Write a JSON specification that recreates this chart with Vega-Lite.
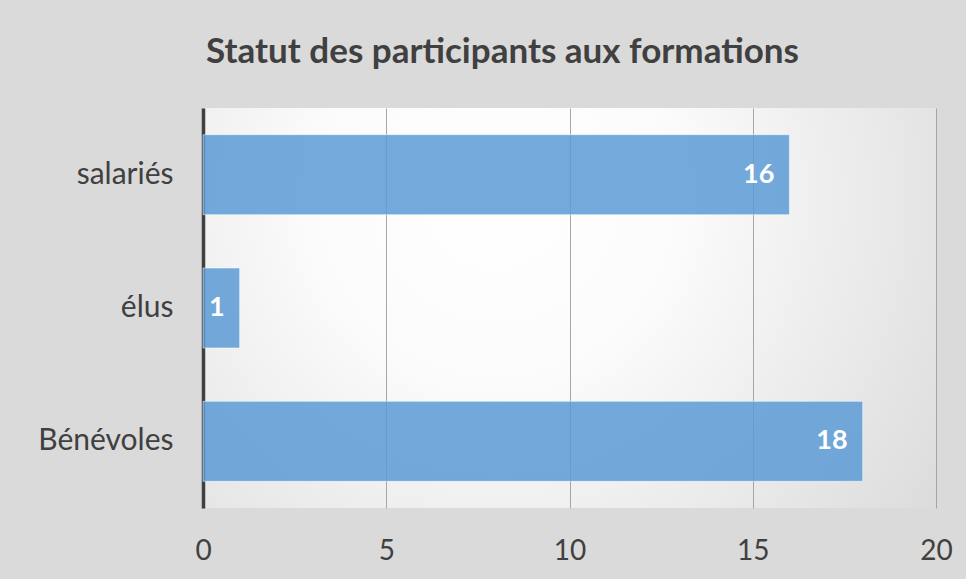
{
  "$schema": "https://vega.github.io/schema/vega-lite/v6.json",
  "width": 733,
  "height": 400,
  "autosize": {"type": "none"},
  "padding": {"left": 203, "top": 108, "right": 30, "bottom": 71},
  "background": "#dadada",
  "title": {
    "text": "Statut des participants aux formations",
    "font": "Lato",
    "fontSize": 35,
    "fontWeight": "bold",
    "color": "#404040",
    "anchor": "middle",
    "frame": "group",
    "dx": -67,
    "offset": 38
  },
  "data": {
    "values": [
      {"statut": "salariés", "n": 16},
      {"statut": "élus", "n": 1},
      {"statut": "Bénévoles", "n": 18}
    ]
  },
  "encoding": {
    "y": {
      "field": "statut",
      "type": "nominal",
      "sort": ["salariés", "élus", "Bénévoles"],
      "scale": {"paddingInner": 0.4, "paddingOuter": 0.2},
      "axis": {
        "title": null,
        "ticks": false,
        "domainColor": "#404040",
        "domainWidth": 3.5,
        "labelFont": "Lato",
        "labelFontSize": 30,
        "labelColor": "#404040",
        "labelPadding": 30
      }
    },
    "x": {
      "field": "n",
      "type": "quantitative",
      "scale": {"domain": [0, 20], "nice": false},
      "axis": {
        "title": null,
        "values": [0, 5, 10, 15, 20],
        "ticks": false,
        "domain": false,
        "grid": true,
        "gridColor": "#a6a6a6",
        "gridWidth": 1,
        "labelFlush": false,
        "labelOverlap": false,
        "labelFont": "Lato",
        "labelFontSize": 28,
        "labelColor": "#404040",
        "labelPadding": 29
      }
    }
  },
  "layer": [
    {
      "mark": {
        "type": "bar",
        "color": "#5b9bd5",
        "fillOpacity": 0.85,
        "stroke": "#ffffff",
        "strokeOpacity": 0.5,
        "strokeWidth": 1
      }
    },
    {
      "mark": {
        "type": "text",
        "align": "right",
        "dx": -15,
        "font": "Lato",
        "fontSize": 27,
        "fontWeight": "bold",
        "color": "#ffffff"
      },
      "encoding": {"text": {"field": "n", "type": "quantitative"}}
    }
  ],
  "config": {
    "view": {
      "stroke": null,
      "fill": {
        "gradient": "radial",
        "x1": 0.4, "y1": 0.35, "r1": 0,
        "x2": 0.4, "y2": 0.35, "r2": 0.85,
        "stops": [
          {"offset": 0, "color": "#ffffff"},
          {"offset": 0.3, "color": "#fbfbfb"},
          {"offset": 1, "color": "#d4d4d4"}
        ]
      }
    }
  }
}
